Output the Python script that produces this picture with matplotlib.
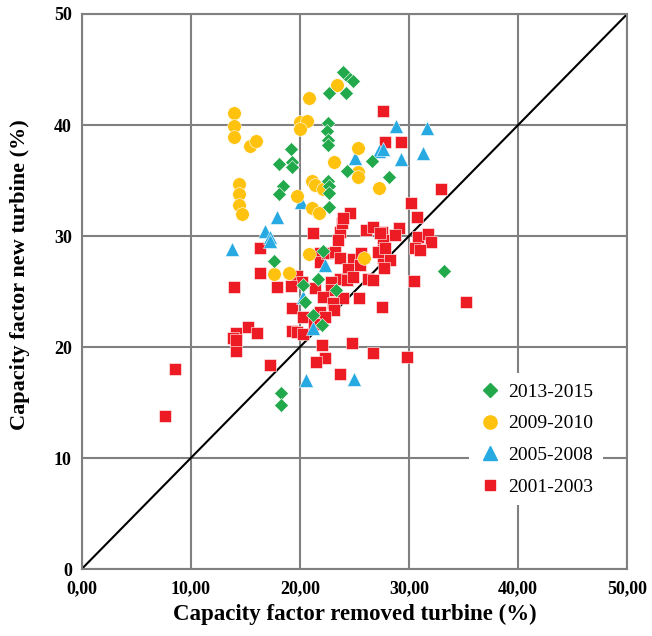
import matplotlib
matplotlib.use("Agg")
import matplotlib.pyplot as plt
from matplotlib.lines import Line2D

plt.rcParams['font.family'] = ['Liberation Serif', 'DejaVu Serif']

# ---- data (capacity factor %, removed vs new turbine)
x_1315 = [24.2, 24.9, 22.7, 24.2, 22.6, 22.45, 22.6, 22.6, 19.2, 18.1, 19.25, 19.3,
          26.6, 24.3, 18.5, 18.1, 22.6, 22.7, 22.7, 22.65, 28.2, 33.2, 17.65, 22.1,
          21.7, 20.3, 23.3, 20.5, 21.2, 22.0, 18.3, 18.3, 24.0]
y_1315 = [44.5, 44.0, 42.85, 42.85, 40.2, 39.5, 38.65, 38.2, 37.8, 36.45, 36.7, 36.2,
          36.8, 35.85, 34.5, 33.8, 35.0, 34.5, 33.85, 32.6, 35.3, 26.85, 27.8, 28.7,
          26.1, 25.6, 25.1, 24.1, 22.9, 22.0, 15.9, 14.8, 44.8]

x_0910 = [23.45, 20.8, 14.0, 14.0, 14.0, 15.45, 15.95, 20.0, 20.7, 20.0, 25.3, 23.15,
          25.3, 25.3, 21.1, 21.4, 22.15, 14.4, 14.4, 14.4, 14.75, 19.7, 21.1, 21.8,
          27.3, 20.85, 17.65, 19.0, 25.9]
y_0910 = [43.6, 42.4, 41.1, 39.9, 38.95, 38.1, 38.6, 40.3, 40.4, 39.6, 37.9, 36.7,
          35.8, 35.3, 35.0, 34.6, 34.2, 34.7, 33.8, 32.8, 31.95, 33.6, 32.5, 32.1,
          34.35, 28.35, 26.55, 26.7, 28.0]

x_0508 = [25.1, 27.3, 20.15, 17.95, 16.85, 17.25, 17.25, 13.8, 22.35, 20.3, 21.2,
          20.55, 24.95, 28.85, 31.7, 27.6, 29.25, 31.3]
y_0508 = [37.0, 37.7, 33.1, 31.7, 30.5, 29.9, 29.6, 28.8, 27.4, 24.5, 21.7,
          17.0, 17.1, 39.9, 39.7, 37.8, 36.9, 37.45]

x_0103 = [27.65, 27.85, 29.3, 32.9, 30.15, 30.75, 29.1, 28.75, 30.8, 31.75, 32.0, 30.6,
          31.0, 27.5, 27.65, 27.65, 27.65, 28.25, 27.7, 30.45, 35.25, 27.5, 29.8, 21.25,
          23.65, 23.9, 23.5, 26.1, 26.7, 27.35, 16.35, 16.35, 14.0, 17.95, 21.85, 21.85,
          22.45, 23.2, 23.65, 24.9, 25.65, 25.5, 27.2, 27.8, 19.7, 20.2, 19.15, 24.45,
          23.65, 24.3, 24.9, 22.9, 22.9, 21.4, 22.15, 23.95, 25.45, 26.25, 26.7, 23.05,
          23.1, 21.85, 19.25, 20.25, 22.3, 19.25, 19.7, 20.25, 21.3, 14.15, 13.9, 15.25,
          16.1, 14.2, 22.0, 24.75, 26.7, 22.35, 21.45, 17.25, 23.65, 24.6, 23.95, 8.6,
          7.65, 14.15]
y_0103 = [41.3, 38.45, 38.45, 34.2, 32.95, 31.7, 30.7, 30.1, 29.95, 30.2, 29.45, 28.9,
          28.75, 30.4, 29.65, 28.75, 28.0, 27.85, 27.1, 25.95, 24.1, 23.6, 19.15, 30.25,
          30.4, 31.15, 29.65, 30.55, 30.85, 30.25, 28.9, 26.7, 25.4, 25.4, 28.45, 27.7,
          28.45, 28.6, 28.0, 27.9, 28.45, 27.4, 28.6, 28.9, 26.4, 25.9, 25.5, 27.0,
          26.1, 26.05, 26.35, 25.9, 25.15, 25.3, 24.5, 24.4, 24.45, 26.1, 26.05, 24.0,
          23.35, 23.2, 23.5, 22.7, 22.75, 21.45, 21.4, 21.15, 22.05, 21.3, 20.85, 21.85,
          21.25, 19.65, 20.2, 20.35, 19.5, 19.05, 18.7, 18.4, 17.6, 32.1, 31.6, 18.0,
          13.8, 20.6]

labels = ['2013-2015', '2009-2010', '2005-2008', '2001-2003']
xticks = [0, 10, 20, 30, 40, 50]
xtick_labels = ['0,00', '10,00', '20,00', '30,00', '40,00', '50,00']
yticks = [0, 10, 20, 30, 40, 50]

green = '#22a94b'
yellow = '#ffc20e'
blue = '#27a9e1'
red = '#ed1c24'

fig = plt.figure(figsize=(6.52, 6.36), dpi=100)
ax = fig.add_axes([0.125, 0.105, 0.837, 0.873])

ax.plot(x_0103, y_0103, 's', color=red, ms=8, mec='white', mew=0.4, zorder=3)
ax.plot(x_0508, y_0508, '^', color=blue, ms=10.5, mec='white', mew=0.4, zorder=4)
ax.plot(x_0910, y_0910, 'o', color=yellow, ms=9.8, mec='white', mew=0.4, zorder=5)
ax.plot(x_1315, y_1315, 'D', color=green, ms=7.5, mec='white', mew=0.4, zorder=6)

ax.plot([0, 50], [0, 50], color='black', lw=1.5, zorder=2)

ax.set_xlim(0, 50)
ax.set_ylim(0, 50)
ax.set_xticks(xticks)
ax.set_xticklabels(xtick_labels)
ax.set_yticks(yticks)
ax.grid(True, color='#808080', lw=1.5, zorder=1)
ax.set_axisbelow(True)
for s in ax.spines.values():
    s.set_color('#808080')
    s.set_linewidth(1.5)
ax.tick_params(length=0, labelsize=13)
ax.tick_params(axis='x', pad=8)
ax.tick_params(axis='y', pad=7)
for t in ax.get_xticklabels() + ax.get_yticklabels():
    t.set_fontweight('bold')

ax.set_xlabel('Capacity factor removed turbine (%)', fontsize=16.5, fontweight='bold', labelpad=5)
ax.set_ylabel('Capacity factor new turbine (%)', fontsize=16, fontweight='bold')
ax.yaxis.set_label_coords(-0.095, 0.53)

handles = [
    Line2D([], [], marker='D', ls='', color=green, ms=7),
    Line2D([], [], marker='o', ls='', color=yellow, ms=9.5),
    Line2D([], [], marker='^', ls='', color=blue, ms=10),
    Line2D([], [], marker='s', ls='', color=red, ms=7.5),
]
leg = ax.legend(handles, labels, loc='lower right', bbox_to_anchor=(0.955, 0.115),
                frameon=True, facecolor='white', edgecolor='none', framealpha=1,
                fontsize=14, labelspacing=0.72, handletextpad=0.3, borderpad=0.5,
                handlelength=1.2, borderaxespad=0)
leg.set_zorder(10)

fig.savefig('out.png', dpi=100)
